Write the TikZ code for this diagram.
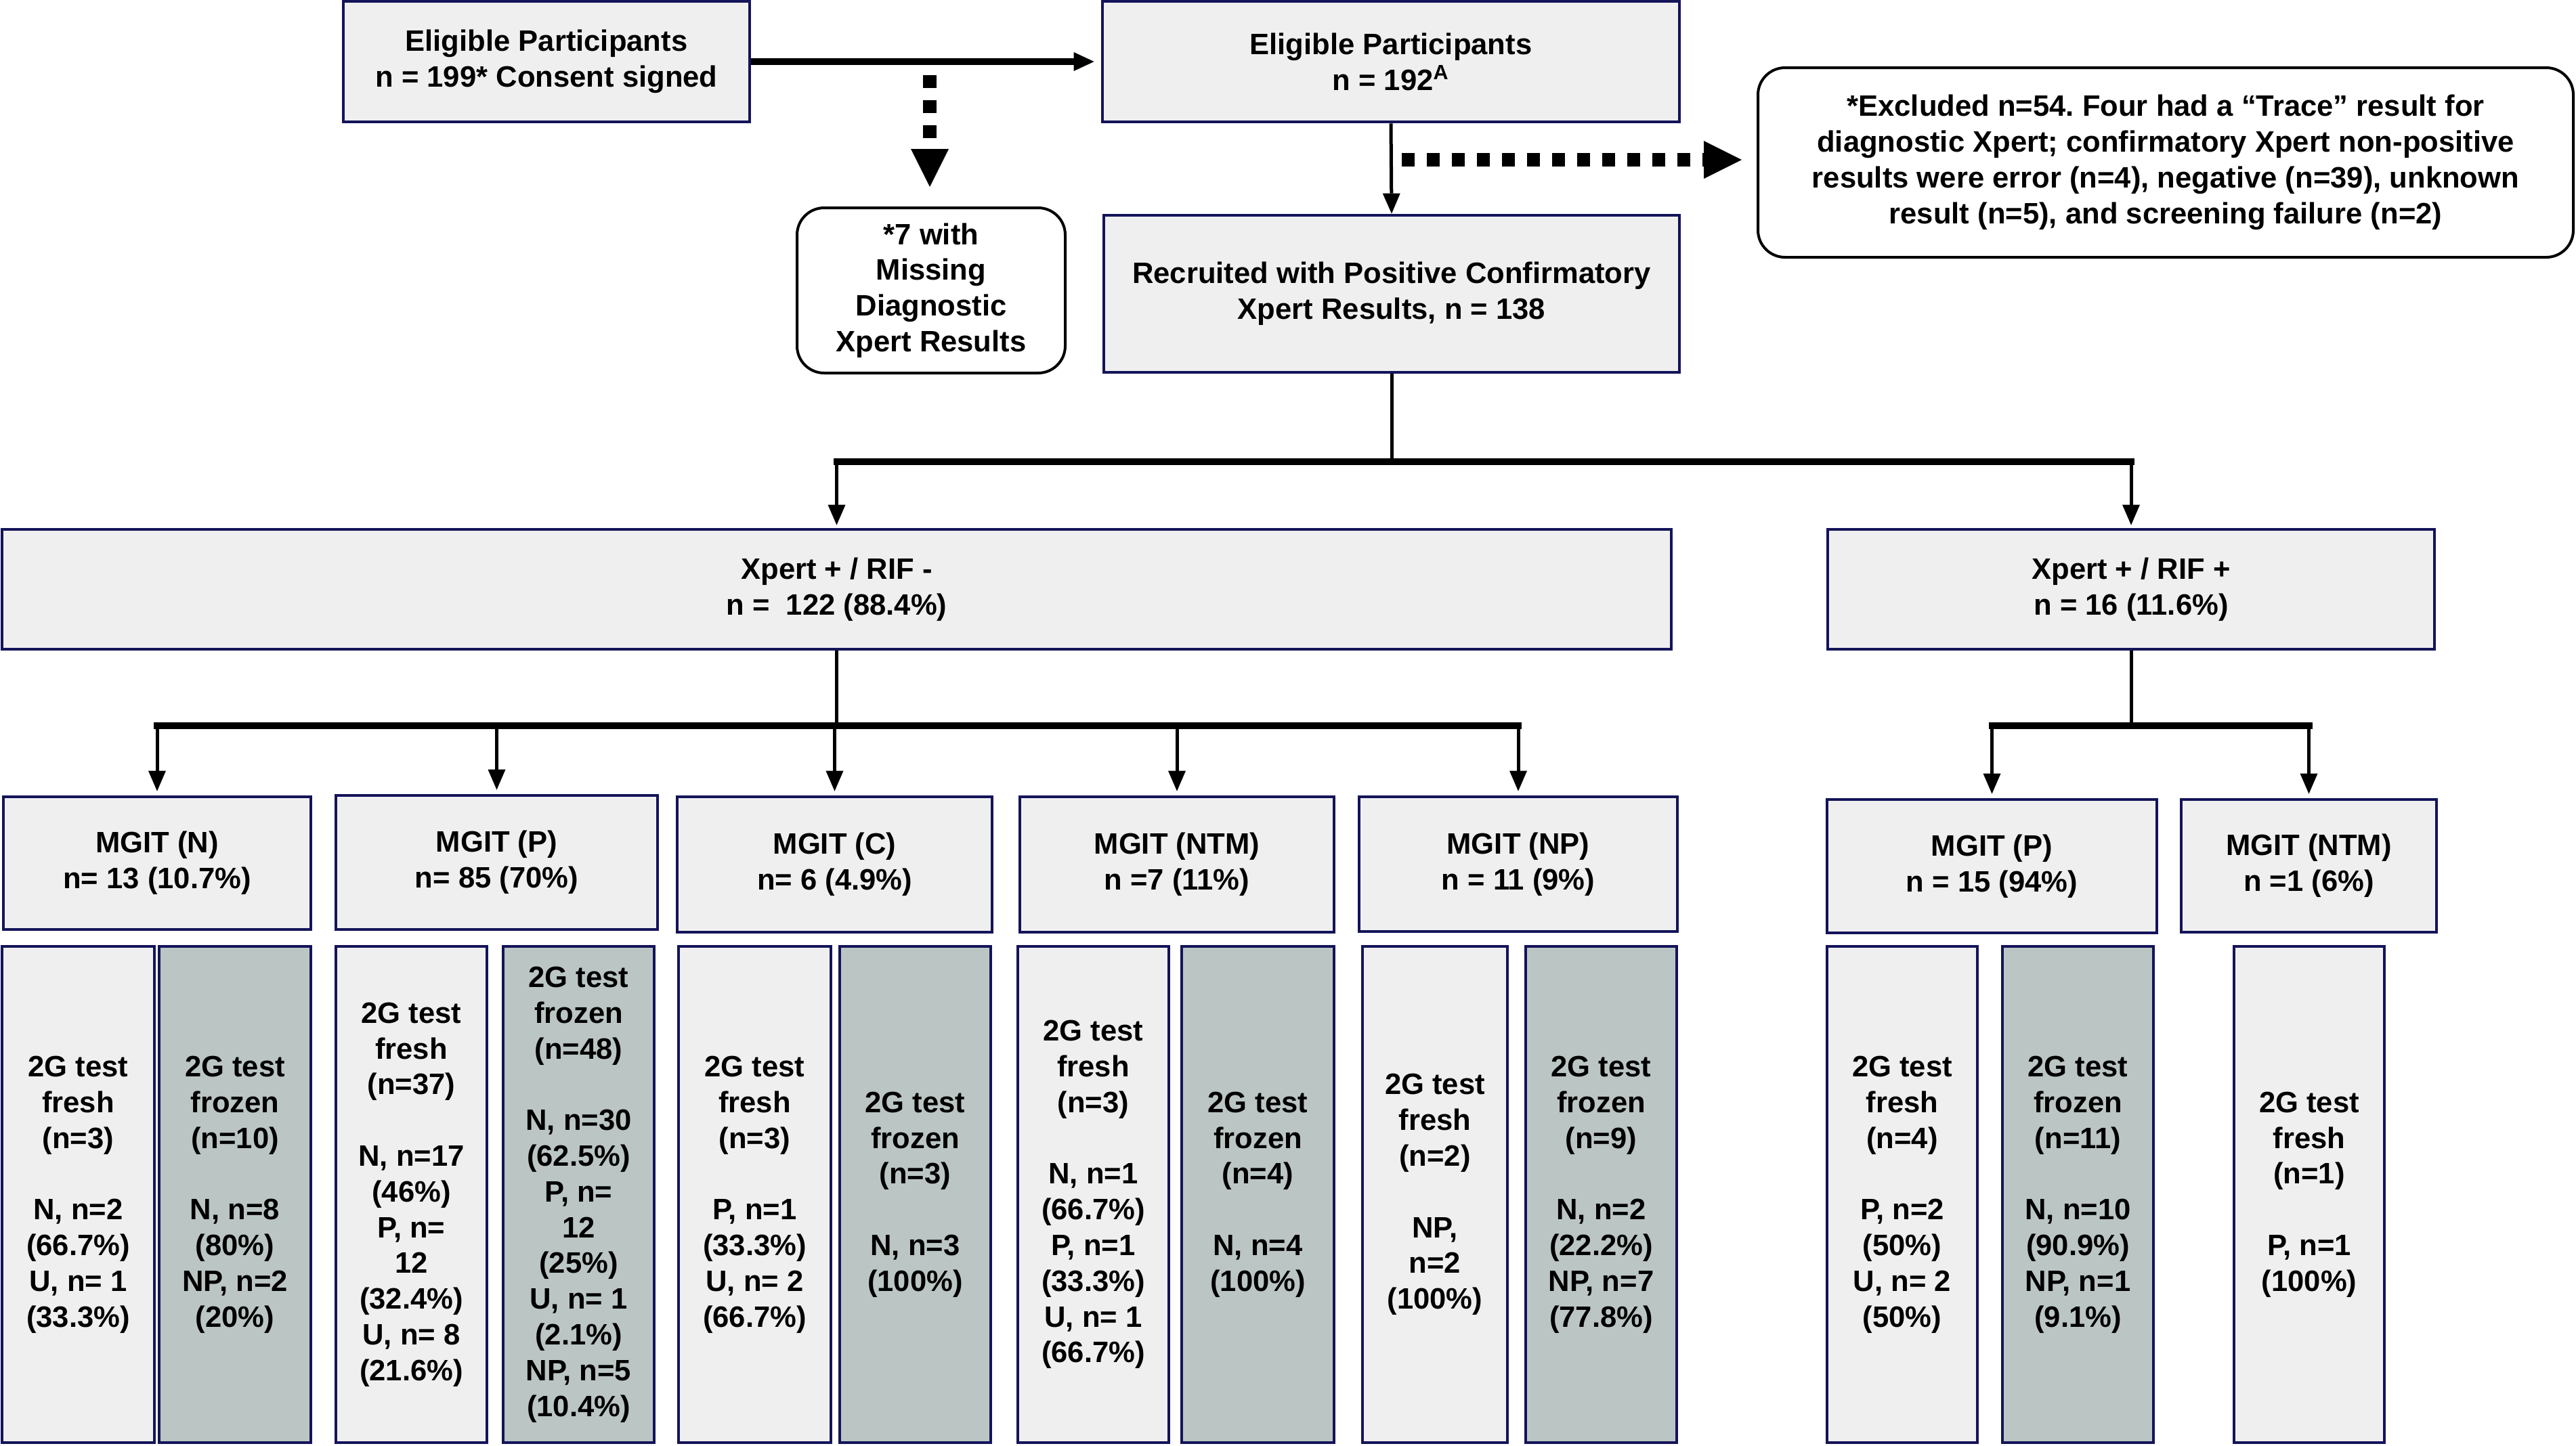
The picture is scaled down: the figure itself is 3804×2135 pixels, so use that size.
\documentclass[tikz,border=0pt]{standalone}
\usepackage{fontspec}
\setmainfont{Liberation Sans}
\usetikzlibrary{arrows.meta}
\definecolor{navy}{RGB}{20,20,90}
\definecolor{boxgray}{RGB}{239,239,239}
\definecolor{frozen}{RGB}{187,198,196}
\newcommand{\boxtxt}{\fontsize{10.9pt}{13.2pt}\selectfont\bfseries\frenchspacing}
\begin{document}
\begin{tikzpicture}[x=0.25pt,y=-0.25pt,
  area/.style n args={4}{at={({(#1+#3)/2},{(#2+#4)/2})}, minimum width={(#3-#1)*0.25pt}, minimum height={(#4-#2)*0.25pt}},
  nbox/.style={draw=navy, fill=boxgray, line width=1.2pt, inner sep=0pt, align=center, font=\boxtxt},
  frz/.style={nbox, fill=frozen},
  rbox/.style={draw=black, fill=white, line width=1pt, rounded corners=10pt, inner sep=0pt, align=center, font=\boxtxt},
  arr/.style={line width=1.25pt, -{Triangle[length=7.5pt,width=6.5pt,line width=0pt]}},
  thickarr/.style={line width=2.5pt, -{Triangle[length=7.5pt,width=7pt,line width=0pt]}},
  dotarr/.style={line width=5pt, dash pattern=on 4.75pt off 4.5pt, -{Triangle[length=14pt,width=14pt,line width=0pt]}},
  stemline/.style={line width=1.25pt},
  barline/.style={line width=2.5pt, line cap=rect}]
\useasboundingbox (0,0) rectangle (3804,2135);

% top row
\node[nbox, area={507}{2}{1107}{180}] (A) {Eligible Participants\\n = 199* Consent signed};
\node[nbox, area={1628}{2}{2480}{180}] (B) {Eligible Participants\\n = 192\textsuperscript{A}};
\node[rbox, area={1177}{307}{1573}{551}] (seven) {*7 with\\Missing\\Diagnostic\\Xpert Results};
\node[nbox, area={1630}{318}{2480}{550}] (rec) {Recruited with Positive Confirmatory\\Xpert Results, n = 138};
\node[rbox, area={2596}{100}{3800}{380}] (excl) {*Excluded n=54. Four had a “Trace” result for\\diagnostic Xpert; confirmatory Xpert non-positive\\results were error (n=4), negative (n=39), unknown\\result (n=5), and screening failure (n=2)};

% second level
\node[nbox, area={3}{782}{2468}{959}] (rifneg) {Xpert + / RIF -\\n =\ \ 122 (88.4\%)};
\node[nbox, area={2699}{782}{3595}{959}] (rifpos) {Xpert + / RIF +\\n = 16 (11.6\%)};

% MGIT boxes
\node[nbox, area={5}{1177}{459}{1373}] (mN) {MGIT (N)\\n= 13 (10.7\%)};
\node[nbox, area={496}{1175}{971}{1373}] (mP) {MGIT (P)\\n= 85 (70\%)};
\node[nbox, area={1000}{1177}{1465}{1377}] (mC) {MGIT (C)\\n= 6 (4.9\%)};
\node[nbox, area={1506}{1177}{1970}{1377}] (mNTM) {MGIT (NTM)\\n =7 (11\%)};
\node[nbox, area={2007}{1177}{2477}{1376}] (mNP) {MGIT (NP)\\n = 11 (9\%)};
\node[nbox, area={2698}{1181}{3185}{1378}] (mPp) {MGIT (P)\\n = 15 (94\%)};
\node[nbox, area={3221}{1181}{3598}{1377}] (mNTMp) {MGIT (NTM)\\n =1 (6\%)};

% 2G test columns
\node[nbox, area={3}{1398}{228}{2131}] (fN) {2G test\\fresh\\(n=3)\\[13.2pt]N, n=2\\(66.7\%)\\U, n= 1\\(33.3\%)};
\node[frz, area={235}{1398}{459}{2131}] (zN) {2G test\\frozen\\(n=10)\\[13.2pt]N, n=8\\(80\%)\\NP, n=2\\(20\%)};
\node[nbox, area={496}{1398}{719}{2131}] (fP) {2G test\\fresh\\(n=37)\\[13.2pt]N, n=17\\(46\%)\\P, n=\\12\\(32.4\%)\\U, n= 8\\(21.6\%)};
\node[frz, area={743}{1398}{966}{2131}] (zP) {2G test\\frozen\\(n=48)\\[13.2pt]N, n=30\\(62.5\%)\\P, n=\\12\\(25\%)\\U, n= 1\\(2.1\%)\\NP, n=5\\(10.4\%)};
\node[nbox, area={1002}{1398}{1227}{2131}] (fC) {2G test\\fresh\\(n=3)\\[13.2pt]P, n=1\\(33.3\%)\\U, n= 2\\(66.7\%)};
\node[frz, area={1240}{1398}{1463}{2131}] (zC) {2G test\\frozen\\(n=3)\\[13.2pt]N, n=3\\(100\%)};
\node[nbox, area={1503}{1398}{1726}{2131}] (fNTM) {2G test\\fresh\\(n=3)\\[13.2pt]N, n=1\\(66.7\%)\\P, n=1\\(33.3\%)\\U, n= 1\\(66.7\%)};
\node[frz, area={1745}{1398}{1970}{2131}] (zNTM) {2G test\\frozen\\(n=4)\\[13.2pt]N, n=4\\(100\%)};
\node[nbox, area={2012}{1398}{2226}{2131}] (fNP) {2G test\\fresh\\(n=2)\\[13.2pt]NP,\\n=2\\(100\%)};
\node[frz, area={2253}{1398}{2476}{2131}] (zNP) {2G test\\frozen\\(n=9)\\[13.2pt]N, n=2\\(22.2\%)\\NP, n=7\\(77.8\%)};
\node[nbox, area={2698}{1398}{2920}{2131}] (fPp) {2G test\\fresh\\(n=4)\\[13.2pt]P, n=2\\(50\%)\\U, n= 2\\(50\%)};
\node[frz, area={2957}{1398}{3180}{2131}] (zPp) {2G test\\frozen\\(n=11)\\[13.2pt]N, n=10\\(90.9\%)\\NP, n=1\\(9.1\%)};
\node[nbox, area={3299}{1398}{3521}{2131}] (fNTMp) {2G test\\fresh\\(n=1)\\[13.2pt]P, n=1\\(100\%)};

% top connectors
\draw[thickarr, shorten >=2.5pt] (A.east) -- (B.west);
\coordinate (d1s) at (1373,111);
\draw[dotarr, shorten >=7.25pt] (d1s) -- (d1s |- seven.north);
\draw[arr] (B.south) -- (rec.north);
\coordinate (d2s) at (2070,236);
\draw[dotarr, shorten >=5.5pt] (d2s) -- (excl.west |- d2s);

% recruited -> branches
\coordinate (jA) at (rec.south |- 0,682);
\coordinate (jAL) at (rifneg.north |- 0,682);
\coordinate (jAR) at (rifpos.north |- 0,682);
\draw[stemline] (rec.south) -- (jA);
\draw[barline] (jAL) -- (jAR);
\draw[arr, shorten >=1pt] (jAL) -- (rifneg.north);
\draw[arr, shorten >=1pt] (jAR) -- (rifpos.north);

% RIF- -> MGIT
\coordinate (jB) at (rifneg.south |- 0,1072);
\coordinate (bN) at (mN.north |- 0,1072);
\coordinate (bP) at (mP.north |- 0,1072);
\coordinate (bC) at (mC.north |- 0,1072);
\coordinate (bNTM) at (mNTM.north |- 0,1072);
\coordinate (bNP) at (mNP.north |- 0,1072);
\draw[stemline] (rifneg.south) -- (jB);
\draw[barline] (bN) -- (bNP);
\foreach \m/\b in {mN/bN, mP/bP, mC/bC, mNTM/bNTM, mNP/bNP}
  \draw[arr, shorten >=1.5pt] (\b) -- (\m.north);

% RIF+ -> MGIT
\coordinate (jC) at (rifpos.south |- 0,1072);
\coordinate (bPp) at (mPp.north |- 0,1072);
\coordinate (bNTMp) at (mNTMp.north |- 0,1072);
\draw[stemline] (rifpos.south) -- (jC);
\draw[barline] (bPp) -- (bNTMp);
\draw[arr, shorten >=1.5pt] (bPp) -- (mPp.north);
\draw[arr, shorten >=1.5pt] (bNTMp) -- (mNTMp.north);
\end{tikzpicture}
\end{document}
